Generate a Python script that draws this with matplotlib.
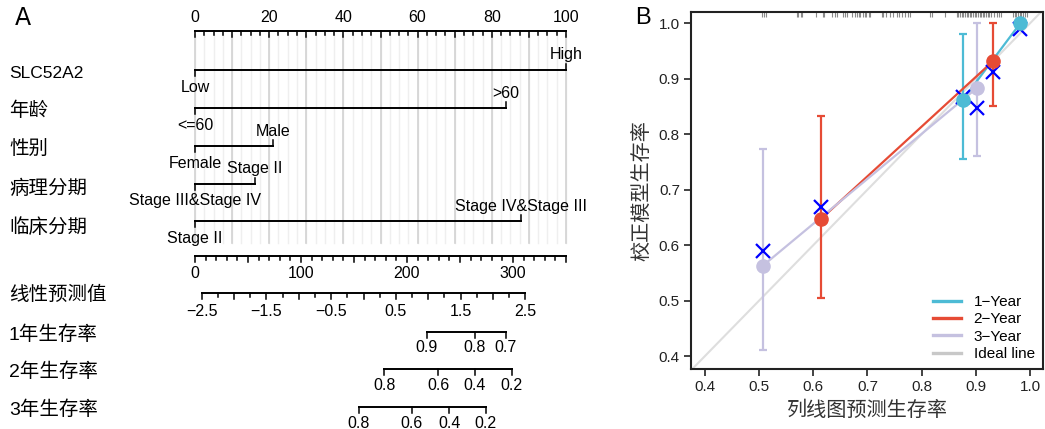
import numpy as np
import matplotlib
matplotlib.use('Agg')
import matplotlib.pyplot as plt

plt.rcParams['font.family'] = ['Liberation Sans', 'Noto Sans CJK SC']

# ---- nomogram (A) ----
var_names = ['SLC52A2', '年龄', '性别', '病理分期', '临床分期']
low_levels = ['Low', '<=60', 'Female', 'Stage III&Stage IV', 'Stage II']
high_levels = ['High', '>60', 'Male', 'Stage II', 'Stage IV&Stage III']
high_points = [100, 83.7, 21.1, 16.1, 87.8]

points_labels = [0, 20, 40, 60, 80, 100]
total_max = 350
total_labels = [0, 100, 200, 300]

lp_ends = [-2.5, 2.5]
lp_ends_total = [6.3, 311.7]
lp_labels = [-2.5, -1.5, -0.5, 0.5, 1.5, 2.5]

surv_names = ['1年生存率', '2年生存率', '3年生存率']
surv_vals = [[0.9, 0.8, 0.7], [0.8, 0.6, 0.4, 0.2], [0.8, 0.6, 0.4, 0.2]]
surv_total = [[218.5, 264, 293], [178.5, 229.4, 264, 298.6], [154.6, 204.3, 239.8, 274.4]]

# ---- calibration (B) ----
years = ['1\u2212Year', '2\u2212Year', '3\u2212Year']
cal_pred = [[0.876, 0.982], [0.615, 0.932], [0.507, 0.9015]]
cal_obs = [[0.862, 1.0], [0.648, 0.932], [0.563, 0.883]]
cal_lo = [[0.755, 1.0], [0.504, 0.850], [0.411, 0.761]]
cal_hi = [[0.981, 1.0], [0.832, 1.0], [0.773, 1.0]]
cal_corr = [[0.868, 0.990], [0.669, 0.913], [0.590, 0.848]]
rug_x = [0.506, 0.509, 0.513, 0.569, 0.572, 0.578, 0.580, 0.605, 0.617, 0.620,
         0.635, 0.640, 0.643, 0.654, 0.658, 0.662, 0.672, 0.677, 0.681, 0.685,
         0.687, 0.691, 0.695, 0.698, 0.702, 0.705, 0.726, 0.729, 0.735, 0.742,
         0.748, 0.754, 0.759, 0.763, 0.769, 0.774, 0.778, 0.815, 0.820, 0.843,
         0.865, 0.868, 0.871, 0.874, 0.877, 0.880, 0.883, 0.886, 0.889, 0.892,
         0.895, 0.898, 0.901, 0.904, 0.907, 0.910, 0.913, 0.916, 0.919, 0.922,
         0.925, 0.928, 0.934, 0.940, 0.943, 0.946, 0.969, 0.972, 0.975, 0.978,
         0.981, 0.984, 0.987, 0.990, 0.994]
colors = ['#4DBBD5', '#E64B35', '#C5C1E0']
ideal_col = '#DEDEDE'

fig = plt.figure(figsize=(10.45, 4.29), dpi=100)

# left panel: x in points units, y in pixel rows
ax = fig.add_axes([0, 0, 0.6, 1])
pxs = 3.71
ax.set_xlim(-195 / pxs, (627 - 195) / pxs)
ax.set_ylim(429, 0)
ax.axis('off')
lw = 1.4
fs_tick = 11.5

def to_pts(tp):
    return np.asarray(tp) * 100.0 / total_max

def lab_size(s):
    # latin names smaller than the chinese ones
    return 12.5 if s.isascii() else 14

x_left = -186 / pxs
ax.text(-180 / pxs, 18, 'A', fontsize=17, va='center', ha='left',
        family=['DejaVu Sans Condensed', 'DejaVu Sans'])

# grid
for g in np.arange(0, 100.01, 2.5):
    ax.plot([g, g], [35, 243], color='#EFEFEF', lw=1.0, zorder=0)
for g in np.arange(0, 100.01, 10):
    ax.plot([g, g], [35, 243], color='#D3D3D3', lw=1.2, zorder=0)

# points axis
y0 = 31
ax.plot([0, 100], [y0, y0], color='black', lw=lw)
for t in np.arange(0, 100.01, 2.5):
    h = 6 if t % 10 == 0 else 3.5
    ax.plot([t, t], [y0, y0 + h], color='black', lw=1.1)
for t in points_labels:
    ax.text(t, y0 - 13, str(t), fontsize=fs_tick, ha='center', va='center')

# categorical rows
row_y = [70, 108, 146, 184, 221]
lab_y = [73, 111, 150, 189, 228]
for i, name in enumerate(var_names):
    y = row_y[i]
    hp = high_points[i]
    ax.plot([0, hp], [y, y], color='black', lw=lw)
    ax.plot([0, 0], [y, y + 6], color='black', lw=1.1)
    ax.plot([hp, hp], [y, y - 6], color='black', lw=1.1)
    ax.text(hp, y - 15, high_levels[i], fontsize=11.5, ha='center', va='center')
    ax.text(0, y + 17, low_levels[i], fontsize=11.5, ha='center', va='center')
    ax.text(x_left, lab_y[i], name, fontsize=lab_size(name), ha='left', va='center')

# total points
yt = 256
ax.plot(to_pts([0, total_max]), [yt, yt], color='black', lw=lw)
for t in np.arange(0, total_max + 1, 10):
    h = 6 if t % 50 == 0 else 3.5
    ax.plot(to_pts([t, t]), [yt, yt + h], color='black', lw=1.1)
for t in total_labels:
    ax.text(to_pts(t), yt + 17, str(t), fontsize=fs_tick, ha='center', va='center')

# linear predictor
yl = 293
lp_ticks = np.arange(-2.5, 2.501, 0.25)
lp_x = to_pts(np.interp(lp_ticks, lp_ends, lp_ends_total))
ax.plot([lp_x[0], lp_x[-1]], [yl, yl], color='black', lw=lw)
for k, x in enumerate(lp_x):
    h = 6 if k % 2 == 0 else 3.5
    ax.plot([x, x], [yl, yl + h], color='black', lw=1.1)
for v in lp_labels:
    x = to_pts(np.interp(v, lp_ends, lp_ends_total))
    ax.text(x, yl + 18, ('%.1f' % v).replace('-', '\u2212'), fontsize=fs_tick,
            ha='center', va='center')
ax.text(x_left, yl + 2, '线性预测值', fontsize=14, ha='left', va='center')

# survival rows
surv_y = [332, 369, 407]
for i, name in enumerate(surv_names):
    y = surv_y[i]
    xs = to_pts(surv_total[i])
    ax.plot([xs[0], xs[-1]], [y, y], color='black', lw=lw)
    for x, v in zip(xs, surv_vals[i]):
        ax.plot([x, x], [y, y + 6], color='black', lw=1.1)
        ax.text(x, y + 16, '%.1f' % v, fontsize=fs_tick, ha='center', va='center')
    ax.text(x_left, y + 3, name, fontsize=14, ha='left', va='center')

# right panel
bx = fig.add_axes([691 / 1045, 60 / 429, 352 / 1045, 357 / 429])
bx.set_xlim(0.3742, 1.024)
bx.set_ylim(0.3766, 1.0204)
bx.plot([0, 1.1], [0, 1.1], color=ideal_col, lw=1.5, zorder=1)
bx.vlines(rug_x, 0.985, 1.0, transform=bx.get_xaxis_transform(),
          color='#8A8A8A', lw=0.8)
for i in range(3):
    c = colors[i]
    px = np.array(cal_pred[i])
    ob = np.array(cal_obs[i])
    bx.errorbar(px, ob, yerr=[ob - np.array(cal_lo[i]), np.array(cal_hi[i]) - ob],
                fmt='none', ecolor=c, elinewidth=1.6, capsize=2.6, capthick=1.6,
                zorder=2)
    bx.plot(px, ob, color=c, lw=1.6, zorder=3)
    bx.plot(px, cal_corr[i], ls='none', marker='x', color='#0000FF',
            markersize=10, mew=1.6, zorder=4)
    bx.plot(px, ob, ls='none', marker='o', color=c, markersize=9.5, zorder=5)

handles = [plt.Line2D([], [], color=c, lw=2.4) for c in colors]
handles.append(plt.Line2D([], [], color='#C8C8C8', lw=2.4))
bx.legend(handles, years + ['Ideal line'], loc='lower right', frameon=False,
          fontsize=11, labelspacing=0.22, handlelength=1.8, handletextpad=0.85,
          borderaxespad=0.4, bbox_to_anchor=(1.011, -0.012))

bx.set_xticks([0.4, 0.5, 0.6, 0.7, 0.8, 0.9, 1.0])
bx.set_yticks([0.4, 0.5, 0.6, 0.7, 0.8, 0.9, 1.0])
bx.set_xticklabels(['%.1f' % v for v in bx.get_xticks()])
bx.set_yticklabels(['%.1f' % v for v in bx.get_yticks()])
bx.tick_params(direction='out', length=5, width=1.2, labelsize=11,
               colors='#222222', pad=3)
for s in bx.spines.values():
    s.set_linewidth(1.5)
    s.set_color('#222222')
bx.set_xlabel('列线图预测生存率', fontsize=14.5, color='#333333', labelpad=5)
bx.set_ylabel('校正模型生存率', fontsize=14.5, color='#333333', labelpad=5)
fig.text(635 / 1045, 1 - 18 / 429, 'B', fontsize=17, ha='left', va='center')

fig.savefig('out.png', dpi=100)
